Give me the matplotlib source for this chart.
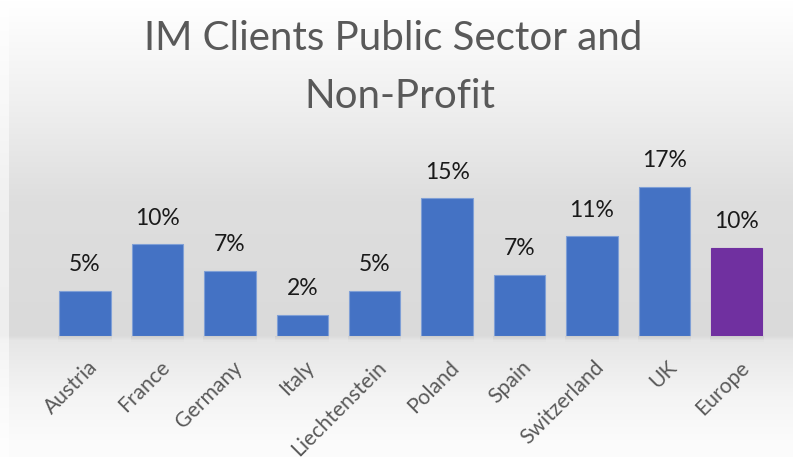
import matplotlib
matplotlib.use('Agg')
import matplotlib.pyplot as plt
import matplotlib.transforms as mtransforms
from matplotlib.patches import Rectangle
import numpy as np

countries = ['Austria', 'France', 'Germany', 'Italy', 'Liechtenstein',
             'Poland', 'Spain', 'Switzerland', 'UK', 'Europe']
shares = [4.95, 10.1, 7.2, 2.3, 4.95, 15.2, 6.7, 11.0, 16.5, 9.7]
share_labels = ['5%', '10%', '7%', '2%', '5%', '15%', '7%', '11%', '17%', '10%']
bar_colors = ['#4472C4'] * 9 + ['#7030A0']
edge_colors = ['#7f9fd6'] * 9 + ['#7030A0']

W, H = 793, 457
plt.rcParams['font.family'] = ['Lato', 'DejaVu Sans']

fig = plt.figure(figsize=(W / 100, H / 100), dpi=100)

# background gradient (white -> grey -> white), light strip on the left
bg = fig.add_axes([0, 0, 1, 1], zorder=0)
rows = np.interp(np.arange(H), [0, 15, 100, 200, 335, 340, 400, 440, 457],
                 [255, 253, 240, 222, 218, 230, 245, 251, 252]) / 255.0
img = np.repeat(rows[:, None], W, axis=1)
img[:, :9] = 1 - (1 - img[:, :9]) * 0.45
bg.imshow(np.dstack([img, img, img]), aspect='auto', extent=(0, W, H, 0))
bg.set_xlim(0, W)
bg.set_ylim(H, 0)
bg.axis('off')

# plot area
x0, x1, base, top = 48.8, 773.0, 335.7, 150.0
ax = fig.add_axes([x0 / W, (H - base) / H, (x1 - x0) / W, (base - top) / H], zorder=1)
ax.patch.set_alpha(0)
ax.set_xlim(-0.5, 9.5)
ax.set_ylim(0, (base - top) / 9.03)

x = np.arange(len(countries))
ax.bar(x, shares, width=0.71, color=bar_colors, edgecolor=edge_colors, linewidth=0.8, zorder=3)

# soft shadow under each bar
px = ax.get_ylim()[1] / (base - top)
for xi in x:
    for k, a in enumerate([0.10, 0.07, 0.04, 0.02]):
        ax.add_patch(Rectangle((xi - 0.37, -(k + 1) * 1.5 * px), 0.74, 1.5 * px,
                               facecolor='#555555', alpha=a, edgecolor='none',
                               clip_on=False, zorder=2))

for xi, v, lab in zip(x, shares, share_labels):
    ax.annotate(lab, (xi, v), xytext=(0, 14.2), textcoords='offset points',
                ha='center', va='baseline', fontsize=16.5, color='#1a1a1a')

ax.set_xticks(x, countries, rotation=45, ha='right', rotation_mode='anchor',
              fontsize=15.2, color='#595959')
ax.tick_params(axis='x', length=0, pad=15.5)
ax.set_yticks([])
for s in ax.spines.values():
    s.set_visible(False)
offset = mtransforms.ScaledTranslation(2 / 100, 0, fig.dpi_scale_trans)
for lab in ax.get_xticklabels():
    lab.set_transform(lab.get_transform() + offset)

# title, two centred lines
fig.text(393.5 / W, 1 - 50 / H, 'IM Clients Public Sector and', ha='center', va='baseline',
         fontsize=29, color='#595959')
fig.text(399.5 / W, 1 - 108.3 / H, 'Non-Profit', ha='center', va='baseline',
         fontsize=29, color='#595959')

fig.savefig('out.png', dpi=100)
